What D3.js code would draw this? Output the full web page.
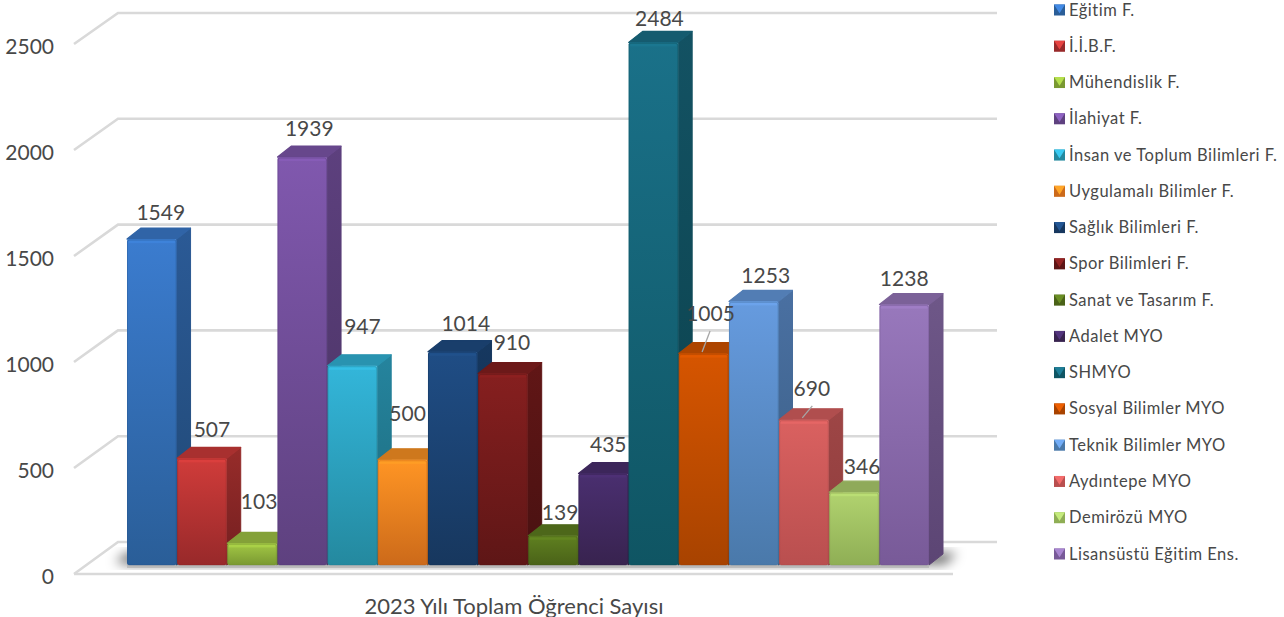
<!DOCTYPE html>
<html><head><meta charset="utf-8">
<script src="https://cdn.jsdelivr.net/npm/d3@7/dist/d3.min.js"></script>
<style>html,body{margin:0;background:#fff}svg{display:block}text{font-family:Lato,"Open Sans",sans-serif;fill:#484848}</style>
</head><body><svg id="c" width="1284" height="617"></svg>
<script>
const categories=["Eğitim F.","İ.İ.B.F.","Mühendislik F.","İlahiyat F.","İnsan ve Toplum Bilimleri F.","Uygulamalı Bilimler F.","Sağlık Bilimleri F.","Spor Bilimleri F.","Sanat ve Tasarım F.","Adalet MYO","SHMYO","Sosyal Bilimler MYO","Teknik Bilimler MYO","Aydıntepe MYO","Demirözü MYO","Lisansüstü Eğitim Ens."];
const values=[1549,507,103,1939,947,500,1014,910,139,435,2484,1005,1253,690,346,1238];
const axisTicks=[0,500,1000,1500,2000,2500];
const axisTitle="2023 Yılı Toplam Öğrenci Sayısı";
const colorTop=["#3b7ccf","#d03c3a","#a3c845","#8058ae","#33b6da","#ff9524","#1f4d85","#861f1f","#5f8020","#4a2f70","#1a7189","#d65500","#669bdf","#da6160","#b1d36f","#9878bc"];
const colorBottom=["#2a5e98","#98292a","#7a9932","#5e417f","#24899f","#cc6a1a","#17375e","#5e1616","#4a6218","#38234f","#0f5563","#a84300","#4a79aa","#b94f4f","#8fae55","#785a98"];
// label layout, separate from the data
const labelDx=[9,10,7,7,10,5,13,9,7,5,6,7,12,8,8,0];
const labelGap=[15,17,30,17,27,34,16,19,11,17,12,28,14,19,14,14];
const leaderBars={"1005":[[6.5,-22.5],[-1.5,-1.5]],"690":[[8.4,-14],[-1.6,-2]]};

const svg=d3.select("#c"),defs=svg.append("defs");
const depth={x:14,y:-11};
const x=d3.scaleBand().domain(categories).range([127,929]).paddingInner(0.012).paddingOuter(0);
const yBar=d3.scaleLinear().domain([0,2500]).range([565,39]);
const yFront=d3.scaleLinear().domain([0,2500]).range([574,44]);
const yBack=d3.scaleLinear().domain([0,2500]).range([542,13]);
const wall={frontX:74,backX:118,right:997,floorRight:953};

defs.append("filter").attr("id","soft").attr("x","-20%").attr("y","-200%").attr("width","140%").attr("height","500%").append("feGaussianBlur").attr("stdDeviation",0.5);
defs.append("filter").attr("id","shadow").attr("x","-20%").attr("y","-50%").attr("width","140%").attr("height","200%").append("feGaussianBlur").attr("stdDeviation",6);
categories.forEach((c,i)=>{
  const g=defs.append("linearGradient").attr("id","f"+i).attr("x1",0).attr("y1",0).attr("x2",0).attr("y2",1);
  g.append("stop").attr("offset",0).attr("stop-color",colorTop[i]);
  g.append("stop").attr("offset",1).attr("stop-color",colorBottom[i]);
  const s=defs.append("linearGradient").attr("id","s"+i).attr("x1",0).attr("y1",0).attr("x2",0).attr("y2",1);
  s.append("stop").attr("offset",0).attr("stop-color",d3.color(colorTop[i]).darker(0.9));
  s.append("stop").attr("offset",1).attr("stop-color",d3.color(colorBottom[i]).darker(0.75));
});

// walls and floor
const grid=svg.append("g").attr("fill","none").attr("stroke","#d9d9d9").attr("stroke-width",2.6).attr("filter","url(#soft)");
grid.selectAll("path.g").data(axisTicks).join("path").attr("class","g")
  .attr("d",t=>`M${wall.frontX},${yFront(t)}L${wall.backX},${yBack(t)}H${wall.right}`);
grid.append("path").attr("d",`M${wall.frontX},${yFront(0)}H${wall.floorRight}`);

// floor shadow
const sh=svg.append("g").attr("filter","url(#shadow)").attr("fill","#000");
sh.append("path").attr("opacity",.6).attr("d",`M${x.range()[0]-12},${yBar(0)-3}L${x.range()[0]},${yBar(0)-12}H${x.range()[1]+depth.x+14}L${x.range()[1]+16},${yBar(0)-1}H${x.range()[0]}Z`);
svg.append("rect").attr("x",x.range()[0]).attr("y",yBar(0)).attr("width",x.range()[1]-x.range()[0]).attr("height",3).attr("fill","#aaa").attr("opacity",.55).attr("filter","url(#soft)");

// bars
const bars=svg.append("g").selectAll("g").data(categories).join("g");
bars.each(function(c,i){
  const g=d3.select(this),l=x(c),w=x.bandwidth(),t=yBar(values[i]),b=yBar(0);
  g.append("path").attr("d",`M${l+w},${t}L${l+w+depth.x},${t+depth.y}V${b+depth.y}L${l+w},${b}Z`)
    .attr("fill",`url(#s${i})`).attr("stroke",`url(#s${i})`).attr("stroke-width",1).attr("stroke-linejoin","round");
  g.append("path").attr("d",`M${l},${t}L${l+depth.x},${t+depth.y}H${l+w+depth.x}L${l+w},${t}Z`)
    .attr("fill",d3.color(colorTop[i]).darker(0.6)).attr("stroke",d3.color(colorTop[i]).darker(0.6)).attr("stroke-width",1.2).attr("stroke-linejoin","round");
  g.append("rect").attr("x",l).attr("y",t).attr("width",w).attr("height",b-t).attr("rx",2).attr("fill",`url(#f${i})`);
  g.append("rect").attr("x",l+1.5).attr("y",t+1).attr("width",w-3).attr("height",3).attr("fill",d3.color(colorTop[i]).brighter(0.25)).attr("opacity",.6).attr("filter","url(#soft)");
  g.append("rect").attr("x",l+.5).attr("y",t+1).attr("width",w-1).attr("height",b-t-1).attr("rx",2).attr("fill","none").attr("stroke",d3.color(colorBottom[i]).darker(0.3)).attr("stroke-opacity",.35);
});

// leader lines and data labels
const labels=svg.append("g").attr("font-size",21).attr("text-anchor","middle");
categories.forEach((c,i)=>{
  const cx=x(c)+x.bandwidth()/2, top=yBar(values[i]);
  const lead=leaderBars[values[i]];
  if(lead) svg.append("path").attr("fill","none").attr("stroke","#a6a6a6").attr("stroke-width",1.3)
    .attr("d",d3.line()(lead.map(p=>[cx+p[0],top+p[1]])));
});
labels.selectAll("text").data(categories).join("text")
  .attr("x",(c,i)=>x(c)+x.bandwidth()/2+labelDx[i])
  .attr("y",(c,i)=>yBar(values[i])-12-labelGap[i]+7.5)
  .text((c,i)=>values[i]);

// value axis
const ax=svg.append("g").attr("transform","translate(60,1.5)").call(d3.axisLeft(yFront).tickValues(axisTicks).tickSize(0).tickPadding(6).tickFormat(d3.format("d")));
ax.select(".domain").remove();
ax.selectAll("text").attr("font-size",21).attr("font-family","Lato").attr("fill","#484848").attr("dy",".36em");

svg.append("text").attr("x",514).attr("y",613.5).attr("text-anchor","middle").attr("font-size",22).text(axisTitle);

// legend
const ly=d3.scalePoint().domain(categories).range([10,554]);
const leg=svg.append("g").selectAll("g").data(categories).join("g").attr("transform",c=>`translate(1054,${ly(c)})`);
leg.each(function(c,i){
  const g=d3.select(this),s=5.5;
  g.append("rect").attr("x",0).attr("y",-s).attr("width",2*s).attr("height",2*s).attr("fill",colorBottom[i]);
  g.append("path").attr("d",`M0,${-s}H${2*s}L${s},${s*.6}Z`).attr("fill",d3.color(colorTop[i]).brighter(0.3));
  g.append("text").attr("x",15).attr("y",5.5).attr("font-size",16.5).attr("letter-spacing",.5).text(c);
});
</script></body></html>
